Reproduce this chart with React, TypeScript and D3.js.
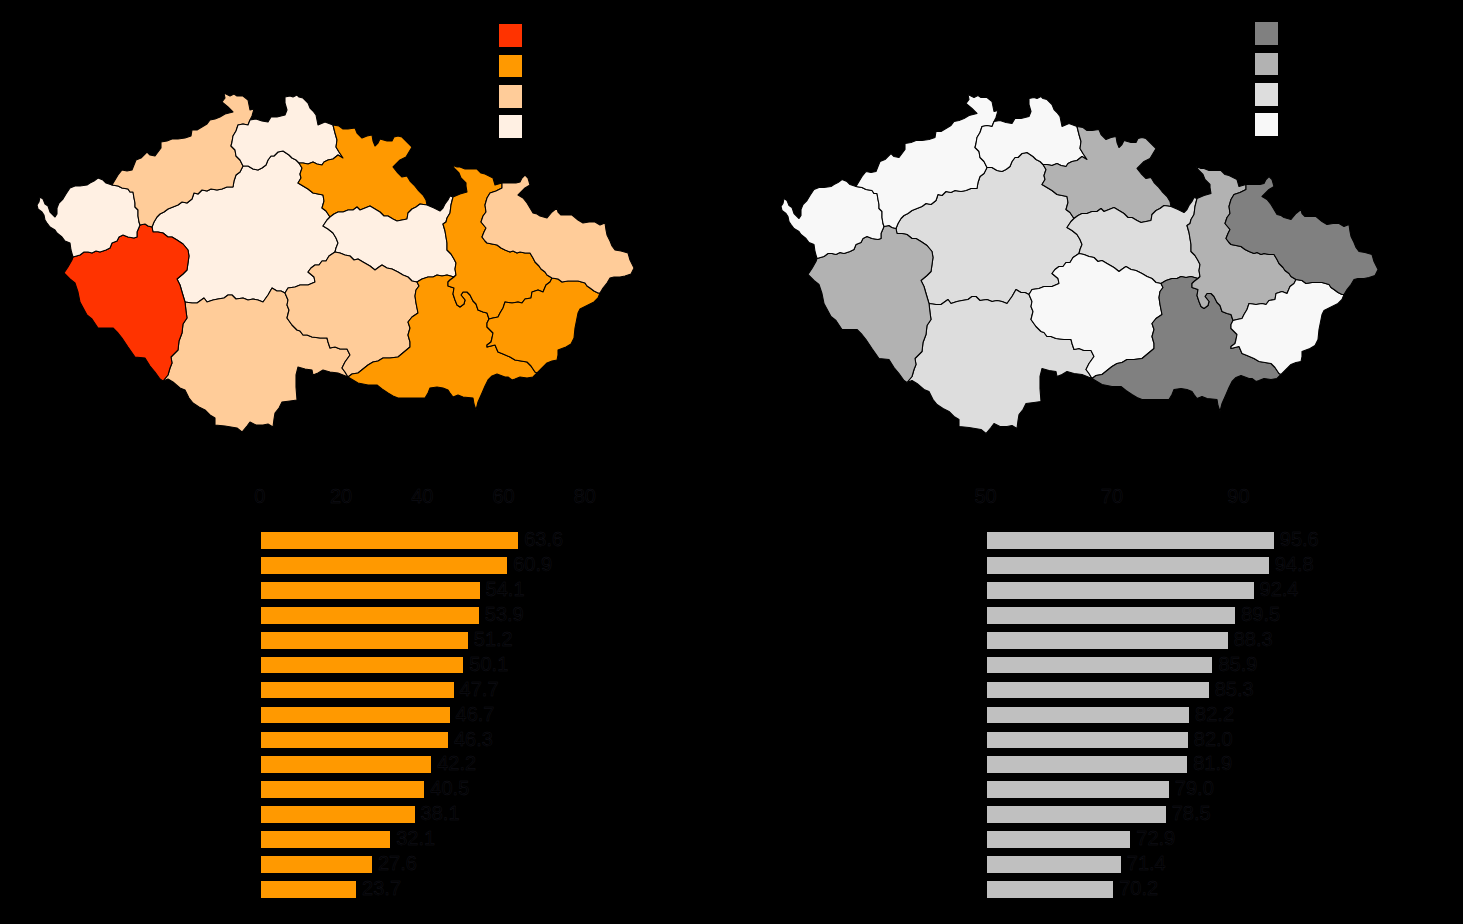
import React from "react";
import * as d3 from "d3";

type Pt = [number, number];

// values
const leftValues = [63.6, 60.9, 54.1, 53.9, 51.2, 50.1, 47.7, 46.7, 46.3, 42.2, 40.5, 38.1, 32.1, 27.6, 23.7];
const rightValues = [95.6, 94.8, 92.4, 89.5, 88.3, 85.9, 85.3, 82.2, 82.0, 81.9, 79.0, 78.5, 72.9, 71.4, 70.2];
const leftTicks = [0, 20, 40, 60, 80];
const rightTicks = [50, 70, 90];

const orangeLegend = ["#ff3300", "#ff9900", "#ffcc99", "#fff0e3"];
const greyLegend = ["#808080", "#b2b2b2", "#dddddd", "#f8f8f8"];

// class (0 = darkest) of each region in each map
const regionNames = ["praha", "stredocesky", "jihocesky", "plzensky", "karlovarsky", "ustecky", "liberecky", "kralovehradecky", "pardubicky", "vysocina", "jihomoravsky", "olomoucky", "zlinsky", "moravskoslezsky"];
const leftClasses = [0, 3, 2, 0, 3, 2, 3, 1, 3, 2, 1, 1, 1, 2];
const rightClasses = [0, 2, 2, 1, 3, 3, 3, 1, 2, 3, 0, 1, 3, 0];

// border arcs, in map units
const kvOuter: Pt[] = [[73, 257], [71, 250], [70, 243], [65, 241], [62, 237], [57, 233], [55, 230], [50, 227], [47, 223], [45, 220], [44, 215], [42, 212], [38, 209], [37, 205], [39, 202], [40, 197], [43, 199], [45, 204], [48, 206], [50, 212], [55, 217], [57, 214], [57, 208], [59, 203], [63, 199], [66, 194], [70, 188], [75, 186], [80, 186], [87, 185], [90, 183], [94, 181], [98, 178], [103, 180], [106, 183], [112, 185]];
const kvUstecky: Pt[] = [[112, 185], [118, 186], [122, 188], [128, 189], [130, 192], [133, 192], [134, 198], [135, 203], [135, 207], [138, 210], [138, 216], [139, 222], [140, 225]];
const kvPlzen: Pt[] = [[73, 257], [80, 255], [84, 252], [88, 252], [92, 253], [96, 251], [100, 252], [106, 250], [110, 248], [112, 243], [117, 241], [119, 237], [123, 235], [128, 237], [134, 238], [137, 237], [137, 232], [140, 225]];
const usteckyOuter: Pt[] = [[112, 185], [115, 180], [118, 175], [122, 170], [127, 171], [132, 170], [134, 165], [136, 160], [141, 158], [144, 155], [147, 152], [150, 155], [155, 156], [158, 152], [161, 148], [161, 142], [167, 141], [172, 139], [178, 139], [185, 138], [191, 136], [192, 130], [197, 130], [202, 127], [207, 124], [210, 120], [215, 119], [220, 117], [225, 114], [233, 112], [228, 107], [222, 102], [225, 98], [224, 93], [230, 96], [234, 94], [237, 96], [243, 96], [248, 100], [249, 105], [250, 110], [254, 109], [252, 116], [250, 120]];
const usteckyLiberec: Pt[] = [[250, 120], [248, 125], [243, 124], [238, 125], [236, 131], [233, 136], [232, 142], [231, 146], [235, 150], [236, 156], [240, 160], [243, 166]];
const usteckyStred: Pt[] = [[243, 166], [240, 172], [236, 175], [234, 181], [233, 187], [227, 187], [222, 189], [217, 190], [211, 189], [207, 191], [202, 190], [198, 194], [194, 193], [192, 199], [187, 203], [182, 202], [178, 205], [173, 207], [168, 209], [164, 212], [160, 214], [157, 217], [154, 222], [152, 227]];
const usteckyPlzen: Pt[] = [[140, 225], [145, 224], [148, 226], [152, 227]];
const liberecOuter: Pt[] = [[250, 120], [256, 119], [262, 121], [268, 122], [271, 117], [277, 117], [285, 115], [287, 110], [285, 103], [285, 97], [290, 96], [293, 97], [297, 95], [299, 97], [303, 98], [308, 103], [310, 108], [313, 111], [316, 115], [318, 125], [325, 122], [333, 125]];
const liberecHradec: Pt[] = [[333, 125], [335, 133], [337, 140], [336, 147], [339, 152], [343, 158], [338, 155], [333, 159], [328, 160], [324, 162], [322, 165], [317, 164], [313, 162], [308, 164], [303, 163], [299, 163]];
const liberecStred: Pt[] = [[299, 163], [296, 160], [292, 158], [289, 155], [283, 151], [278, 152], [274, 156], [271, 156], [268, 160], [266, 165], [262, 168], [258, 170], [253, 169], [248, 166], [243, 166]];
const hradecStred: Pt[] = [[299, 163], [302, 168], [300, 174], [301, 178], [298, 183], [303, 186], [308, 189], [313, 193], [318, 194], [323, 195], [324, 201], [322, 208], [326, 211], [330, 217]];
const hradecOuter: Pt[] = [[333, 125], [339, 126], [343, 129], [348, 129], [355, 128], [357, 133], [362, 138], [367, 136], [372, 135], [373, 141], [375, 146], [378, 143], [380, 139], [387, 141], [392, 141], [394, 137], [398, 136], [402, 137], [407, 142], [412, 147], [409, 152], [406, 157], [400, 160], [396, 164], [393, 167], [397, 172], [402, 177], [407, 176], [410, 181], [414, 185], [418, 190], [423, 195], [426, 200], [427, 205]];
const hradecPard: Pt[] = [[330, 217], [334, 214], [338, 212], [343, 212], [348, 210], [353, 210], [357, 207], [360, 210], [365, 208], [370, 206], [375, 209], [380, 212], [384, 216], [388, 216], [393, 219], [397, 221], [402, 220], [407, 219], [408, 213], [412, 209], [416, 207], [420, 204], [427, 205]];
const stredPard: Pt[] = [[330, 217], [327, 220], [323, 226], [328, 229], [333, 233], [336, 238], [338, 243], [336, 248], [335, 252]];
const pardOuter: Pt[] = [[427, 205], [434, 208], [440, 211], [443, 208], [445, 204], [448, 200], [450, 196], [453, 197]];
const pardOlomouc: Pt[] = [[453, 197], [451, 205], [450, 213], [447, 218], [446, 222], [443, 224], [445, 231], [446, 237], [447, 243], [447, 250], [451, 254], [454, 259], [456, 263], [455, 269], [456, 275], [454, 277]];
const pardVysocina: Pt[] = [[335, 252], [340, 253], [345, 255], [350, 256], [354, 260], [358, 259], [363, 262], [370, 266], [375, 270], [379, 267], [382, 265], [387, 268], [392, 269], [398, 272], [403, 275], [408, 277], [412, 281], [417, 282]];
const pardMorava: Pt[] = [[417, 282], [422, 279], [428, 277], [433, 277], [437, 275], [442, 276], [447, 275], [454, 277]];
const moravaOlomouc: Pt[] = [[454, 277], [450, 280], [448, 282], [448, 286], [454, 288], [453, 294], [455, 300], [457, 305], [460, 307], [464, 304], [465, 300], [461, 295], [463, 292], [467, 292], [470, 295], [473, 301], [476, 304], [478, 310], [483, 312], [487, 313], [489, 319]];
const olomoucOuter: Pt[] = [[453, 197], [460, 194], [467, 192], [466, 186], [466, 183], [461, 178], [459, 173], [455, 169], [452, 165], [457, 167], [460, 167], [465, 169], [470, 169], [477, 169], [481, 173], [485, 174], [489, 176], [493, 178], [495, 185], [502, 183]];
const olomoucSilesia: Pt[] = [[502, 183], [502, 188], [496, 191], [490, 193], [487, 198], [485, 205], [486, 212], [483, 216], [481, 222], [486, 228], [484, 232], [482, 237], [485, 241], [487, 243], [492, 244], [497, 245], [501, 248], [505, 250], [510, 252], [513, 251], [517, 253], [520, 252], [525, 253], [530, 253], [533, 258], [535, 262], [539, 266], [541, 269], [545, 272], [547, 275], [552, 278]];
const olomoucZlin: Pt[] = [[552, 278], [550, 282], [546, 285], [543, 292], [538, 290], [532, 292], [531, 298], [525, 299], [522, 303], [518, 302], [512, 303], [505, 302], [504, 305], [503, 308], [500, 313], [498, 317], [493, 318], [489, 319]];
const silesiaZlin: Pt[] = [[552, 278], [558, 279], [562, 282], [568, 281], [573, 281], [578, 281], [585, 283], [587, 286], [590, 288], [594, 291], [598, 293]];
const silesiaOuter: Pt[] = [[502, 183], [506, 183], [511, 183], [516, 183], [520, 182], [522, 178], [525, 175], [528, 178], [530, 185], [525, 188], [521, 192], [518, 195], [523, 198], [527, 203], [530, 208], [533, 213], [537, 214], [540, 216], [547, 218], [552, 212], [557, 208], [558, 212], [561, 215], [567, 215], [572, 215], [578, 220], [583, 223], [589, 222], [595, 222], [600, 225], [605, 223], [606, 230], [607, 235], [610, 241], [612, 246], [615, 250], [621, 251], [628, 253], [630, 260], [634, 268], [631, 274], [625, 276], [620, 277], [614, 277], [610, 278], [607, 283], [603, 288], [600, 293]];
const zlinOuter: Pt[] = [[600, 293], [598, 298], [594, 302], [588, 305], [580, 309], [578, 313], [577, 318], [575, 328], [574, 338], [571, 344], [566, 347], [558, 350], [558, 355], [557, 360], [552, 361], [547, 363], [542, 368], [537, 373]];
const zlinMorava: Pt[] = [[489, 319], [487, 323], [487, 327], [491, 331], [493, 333], [492, 338], [491, 342], [487, 345], [487, 347], [495, 345], [498, 352], [503, 354], [510, 357], [515, 360], [521, 361], [527, 362], [531, 366], [535, 372], [537, 373]];
const moravaOuter: Pt[] = [[537, 373], [533, 377], [527, 378], [520, 377], [515, 379], [512, 380], [508, 377], [505, 377], [497, 374], [492, 376], [488, 380], [485, 386], [482, 393], [478, 402], [476, 410], [474, 404], [473, 398], [463, 397], [458, 395], [453, 397], [450, 393], [448, 390], [443, 388], [437, 387], [430, 388], [428, 393], [425, 398], [412, 398], [398, 398], [393, 396], [388, 393], [382, 389], [377, 385], [368, 385], [358, 383], [353, 380], [348, 377]];
const moravaVysocina: Pt[] = [[417, 282], [419, 286], [416, 290], [415, 296], [416, 303], [418, 313], [412, 317], [408, 322], [410, 328], [408, 335], [410, 342], [410, 347], [404, 352], [398, 357], [390, 358], [383, 358], [378, 361], [373, 362], [368, 365], [363, 369], [358, 373], [352, 374], [348, 377]];
const vysocinaJih: Pt[] = [[348, 377], [345, 372], [342, 368], [345, 362], [350, 355], [347, 349], [340, 349], [335, 347], [330, 348], [328, 342], [327, 338], [320, 338], [312, 337], [307, 335], [303, 335], [300, 331], [297, 330], [292, 325], [287, 318], [289, 310], [287, 305], [288, 300], [285, 293]];
const vysocinaStred: Pt[] = [[285, 293], [288, 288], [295, 287], [300, 285], [308, 285], [315, 282], [314, 277], [308, 272], [311, 268], [315, 265], [319, 265], [322, 261], [326, 261], [329, 256], [335, 252]];
const stredJih: Pt[] = [[285, 293], [281, 291], [277, 291], [272, 288], [268, 295], [263, 302], [258, 300], [253, 299], [248, 300], [243, 298], [236, 299], [232, 295], [228, 295], [224, 298], [218, 299], [213, 300], [207, 302], [204, 298], [197, 303], [192, 303], [185, 302]];
const stredPlzen: Pt[] = [[152, 227], [153, 232], [158, 232], [163, 233], [168, 237], [172, 237], [177, 240], [183, 244], [188, 250], [189, 256], [188, 263], [187, 270], [183, 274], [177, 279], [180, 285], [182, 292], [185, 302]];
const plzenJih: Pt[] = [[185, 302], [186, 311], [187, 318], [183, 324], [182, 333], [179, 341], [178, 350], [171, 357], [172, 363], [170, 368], [168, 375], [163, 381]];
const plzenOuter: Pt[] = [[73, 257], [72, 260], [68, 267], [64, 273], [70, 279], [75, 283], [78, 292], [80, 302], [87, 315], [92, 319], [98, 328], [105, 328], [113, 328], [118, 333], [122, 338], [128, 347], [135, 357], [145, 358], [150, 366], [155, 372], [160, 379], [163, 381]];
const jihOuter: Pt[] = [[163, 381], [168, 379], [173, 382], [180, 388], [185, 390], [189, 398], [193, 403], [199, 407], [205, 410], [210, 415], [215, 418], [215, 425], [225, 426], [237, 428], [242, 432], [247, 426], [250, 422], [256, 425], [263, 425], [268, 424], [273, 427], [274, 419], [275, 413], [279, 408], [282, 402], [290, 401], [297, 400], [296, 387], [296, 375], [298, 367], [305, 369], [312, 370], [313, 375], [318, 373], [323, 370], [330, 372], [338, 373], [348, 377]];
const prahaRing: Pt[] = [[223, 223], [228, 220], [232, 217], [237, 215], [243, 214], [248, 212], [252, 216], [256, 217], [261, 221], [265, 223], [263, 229], [260, 235], [255, 232], [250, 232], [246, 236], [241, 238], [238, 242], [233, 242], [232, 237], [227, 234], [227, 229], [223, 223]];

const rev = (a: Pt[]) => [...a].reverse();

// each region outline, walked from its arcs
const regionArcs: Pt[][][] = [
  [prahaRing],
  [usteckyStred, stredPlzen, rev(stredJih), vysocinaStred, rev(stredPard), rev(hradecStred), liberecStred],
  [stredJih, plzenJih, jihOuter, vysocinaJih],
  [kvPlzen, usteckyPlzen, stredPlzen, plzenJih, rev(plzenOuter)],
  [kvOuter, kvUstecky, rev(kvPlzen)],
  [usteckyOuter, usteckyLiberec, usteckyStred, rev(usteckyPlzen), rev(kvUstecky)],
  [liberecOuter, liberecHradec, liberecStred, rev(usteckyLiberec)],
  [hradecOuter, rev(hradecPard), rev(hradecStred), rev(liberecHradec)],
  [hradecPard, pardOuter, pardOlomouc, rev(pardMorava), rev(pardVysocina), rev(stredPard)],
  [pardVysocina, moravaVysocina, vysocinaJih, vysocinaStred],
  [pardMorava, moravaOlomouc, zlinMorava, moravaOuter, rev(moravaVysocina)],
  [olomoucOuter, olomoucSilesia, olomoucZlin, rev(moravaOlomouc), rev(pardOlomouc)],
  [rev(olomoucZlin), silesiaZlin, zlinOuter, rev(zlinMorava)],
  [silesiaOuter, rev(silesiaZlin), rev(olomoucSilesia)],
];

const W = 1463, H = 924;
const fringe = "#14141d";
const legendOffsets = [0, 31, 61, 91];

const MapPanel: React.FC<{ classes: number[]; colors: string[]; dx: number; dy: number; legendX: number; legendY: number }> = ({ classes, colors, dx, dy, legendX, legendY }) => {
  const x = d3.scaleLinear([0, 700], [dx, dx + 700]);
  const y = d3.scaleLinear([0, 500], [dy, dy + 500]);
  const line = d3.line<Pt>((d) => x(d[0]), (d) => y(d[1]));
  return (
    <g>
      {regionNames.map((name, i) => {
        const pts = regionArcs[i].flat();
        return <path key={name} d={(line(pts) || "") + "Z"} fill={colors[classes[i]]} stroke="#000" strokeWidth={1.1} strokeLinejoin="round" />;
      })}
      {colors.map((c, i) => (
        <rect key={c} x={legendX} y={legendY + legendOffsets[i]} width={23} height={i === 1 ? 22 : 23} fill={c} shapeRendering="crispEdges" />
      ))}
    </g>
  );
};

const BarPanel: React.FC<{ values: number[]; ticks: number[]; domain: [number, number]; range: [number, number]; barStart: number; color: string }> = ({ values, ticks, domain, range, barStart, color }) => {
  const x = d3.scaleLinear(domain, range);
  const y = d3.scaleBand<number>(d3.range(values.length), [528, 528 + 24.93 * values.length]).paddingInner(0.33).paddingOuter(0.165);
  return (
    <g fontFamily='"Liberation Sans", Arial, sans-serif' fontSize={20} fill="#000" stroke={fringe} strokeWidth={0.45}>
      {ticks.map((t) => (
        <text key={t} x={x(t)} y={503} textAnchor="middle">{t}</text>
      ))}
      {values.map((v, i) => (
        <g key={i}>
          <rect x={barStart} y={y(i)} width={x(v) - barStart} height={y.bandwidth()} fill={color} stroke="none" shapeRendering="crispEdges" />
          <text x={x(v) + 6} y={(y(i) as number) + 14}>{v.toFixed(1)}</text>
        </g>
      ))}
    </g>
  );
};

export default function App() {
  return (
    <svg width={W} height={H} viewBox={`0 0 ${W} ${H}`} style={{ position: "fixed", left: 0, top: 0, display: "block" }}>
      <rect width={W} height={H} fill="#000" />
      <MapPanel classes={leftClasses} colors={orangeLegend} dx={0} dy={0} legendX={499} legendY={24} />
      <MapPanel classes={rightClasses} colors={greyLegend} dx={744} dy={1.5} legendX={1255} legendY={22} />
      <BarPanel values={leftValues} ticks={leftTicks} domain={[0, 80]} range={[259.8, 584.8]} barStart={261} color="#ff9900" />
      <BarPanel values={rightValues} ticks={rightTicks} domain={[50, 90]} range={[985.5, 1238.4]} barStart={987} color="#c0c0c0" />
    </svg>
  );
}
